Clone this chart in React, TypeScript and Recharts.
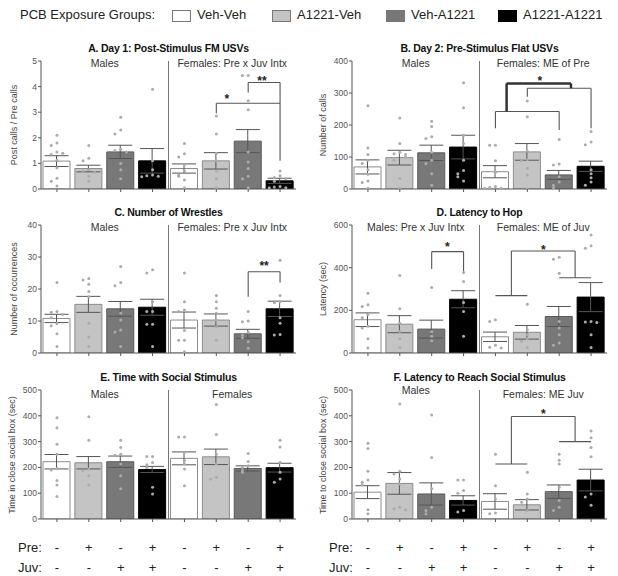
import React from "react";
import { ComposedChart, Bar, Cell, ErrorBar, Scatter, XAxis, YAxis, ReferenceLine, ReferenceDot } from "recharts";

const FONT = "'Liberation Sans', Arial, sans-serif";

const groups = ["M1", "M2", "M3", "M4", "F1", "F2", "F3", "F4"];
const legendNames = ["Veh-Veh", "A1221-Veh", "Veh-A1221", "A1221-A1221"];
const FILLS = ["#ffffff", "#c4c4c4", "#787878", "#000000"];
const STROKES = ["#8c8c8c", "#8c8c8c", "#5a5a5a", "#000000"];
const preSigns = ["-", "+", "-", "+", "-", "+", "-", "+"];
const juvSigns = ["-", "-", "+", "+", "-", "-", "+", "+"];

// A. Day 1 post-stimulus FM USVs
const aMean = [1.09, 0.8, 1.45, 1.1, 0.8, 1.1, 1.87, 0.32];
const aSem = [0.21, 0.13, 0.26, 0.48, 0.18, 0.32, 0.45, 0.1];
const aPoints = [
  [2.1, 1.8, 1.7, 1.45, 1.35, 1.4, 1.12, 0.83, 0.42, 0.3, 0.12],
  [1.7, 1.2, 1.1, 0.75, 0.7, 0.65, 0.5, 0.3],
  [2.8, 2.3, 2.15, 1.55, 1.5, 1.45, 1.0, 0.75, 0.4],
  [3.9, 1.1, 0.75, 0.55, 0.52, 0.5, 0.48],
  [1.78, 1.38, 1.25, 0.95, 0.7, 0.55, 0.5, 0.35, 0.05],
  [2.85, 2.15, 1.4, 1.1, 0.7, 0.4, 0.05],
  [4.43, 4.43, 3.45, 3.1, 1.45, 1.05, 0.8, 0.5, 0.4, 0.05],
  [0.7, 0.52, 0.45, 0.4, 0.3, 0.1, 0.08, 0.05, 0.05],
];
const aBrackets = [
  { path: [[5.5, 2.96], [5.5, 3.35], [7.5, 3.35]] },
  { path: [[6.5, 3.77], [6.5, 4.16], [7.5, 4.16], [7.5, 1.1]] },
];
const aStars = [{ x: 5.83, y: 3.6, text: "*" }, { x: 6.93, y: 4.3, text: "**" }];

// B. Day 2 pre-stimulus flat USVs
const bMean = [69, 98, 113, 131, 54, 116, 44, 71];
const bSem = [22, 23, 24, 37, 19, 26, 14, 16];
const bPoints = [
  [260, 128, 108, 90, 80, 60, 46, 25, 20, 2],
  [222, 142, 115, 110, 108, 100, 90, 33, 2],
  [212, 195, 163, 158, 115, 90, 80, 48, 12],
  [332, 254, 168, 142, 90, 58, 48, 38, 25],
  [137, 137, 88, 52, 8, 5, 2, 2],
  [275, 226, 118, 92, 88, 65, 44, 0],
  [155, 78, 75, 38, 22, 12, 4],
  [180, 147, 138, 60, 48, 35, 22, 12],
];
const bBrackets = [
  { path: [[4.5, 190], [4.5, 242], [6.5, 242], [6.5, 184]] },
  { path: [[5.5, 288], [5.5, 315], [7.5, 315], [7.5, 190]] },
  { path: [[4.85, 242], [4.85, 330], [6.87, 330], [6.87, 315]], bold: true },
];
const bStars = [{ x: 5.89, y: 343, text: "*" }];

// C. Number of wrestles
const cMean = [10.8, 15.2, 13.8, 14.3, 10.3, 10.3, 6.0, 13.8];
const cSem = [1.3, 2.5, 2.3, 2.5, 2.5, 1.9, 1.4, 2.4];
const cPoints = [
  [22, 13, 12.7, 12, 11, 9.2, 8.5, 6, 2],
  [23.3, 22.8, 21.5, 19.2, 17.6, 9.3, 5, 2],
  [27, 22, 21, 12.4, 10.3, 7.2, 6.6, 2],
  [26, 25, 16, 13, 13, 9, 9, 2],
  [25, 16, 13.4, 13, 7, 4, 4, 0.4],
  [18, 16, 14, 12.4, 10.3, 8.2, 4],
  [13, 10, 9.8, 6.5, 5.6, 4.8, 3.5, 1.5],
  [29, 18, 16, 15.7, 11, 9.3, 5.8, 5.6],
];
const cBrackets = [{ path: [[6.5, 17.6], [6.5, 25.4], [7.5, 25.4], [7.5, 22]] }];
const cStars = [{ x: 7.0, y: 27.7, text: "**" }];

// D. Latency to hop
const dMean = [156, 135, 112, 252, 76, 97, 171, 262];
const dSem = [32, 40, 42, 40, 22, 32, 47, 68];
const dPoints = [
  [280, 226, 218, 180, 165, 125, 117, 67, 23],
  [363, 207, 140, 101, 67, 26],
  [307, 100, 78, 58],
  [377, 335, 237, 195, 78],
  [156, 148, 36, 27, 23],
  [229, 109, 86, 67, 55, 26],
  [449, 439, 374, 148, 117, 86, 47, 36],
  [553, 503, 491, 148, 145, 143, 86, 26],
];
const dBrackets = [
  { path: [[2.5, 394], [2.5, 475], [3.5, 475], [3.5, 377]] },
  { path: [[4.5, 269], [5.5, 269]] },
  { path: [[5.0, 269], [5.0, 478], [7.0, 478], [7.0, 353]] },
  { path: [[6.5, 353], [7.5, 353]] },
];
const dStars = [{ x: 2.99, y: 506, text: "*" }, { x: 6.0, y: 494, text: "*" }];

// E. Time with social stimulus
const eMean = [222, 218, 222, 192, 235, 241, 196, 199];
const eSem = [28, 24, 22, 12, 25, 30, 10, 17];
const ePoints = [
  [392, 354, 290, 251, 196, 190, 149, 132, 87],
  [396, 305, 194, 187, 168, 132],
  [305, 277, 251, 247, 213, 168, 117],
  [242, 242, 219, 210, 200, 123, 97],
  [318, 318, 258, 228, 213, 194, 129],
  [444, 328, 251, 213, 162, 155],
  [254, 223, 206, 200, 187, 181],
  [305, 279, 219, 181, 155, 142],
];

// F. Latency to reach social stimulus
const fMean = [104, 138, 97, 72, 68, 55, 106, 151];
const fSem = [25, 42, 43, 18, 30, 20, 26, 42];
const fPoints = [
  [294, 273, 185, 151, 142, 133, 36, 20],
  [446, 185, 174, 155, 136, 46, 40, 36],
  [403, 238, 117, 46, 33, 20],
  [151, 151, 110, 100, 33, 27],
  [251, 129, 78, 23, 20],
  [181, 97, 78, 65, 33],
  [251, 228, 213, 123, 72, 46, 33],
  [341, 315, 277, 241, 97, 85, 53],
];
const fBrackets = [
  { path: [[4.5, 213], [5.5, 213]] },
  { path: [[5.0, 213], [5.0, 397], [7.0, 397], [7.0, 300]] },
  { path: [[6.5, 300], [7.5, 300]] },
];
const fStars = [{ x: 6.0, y: 416, text: "*" }];

const SPREAD = [0, -0.18, 0.18, -0.34, 0.34, -0.1, 0.1];

function spreadPoints(points: number[][], ymax: number) {
  const out: { x: number; y: number }[] = [];
  points.forEach((vals, gi) => {
    vals.forEach((v, k) => {
      const near = vals.slice(0, k).filter((w) => Math.abs(w - v) < ymax * 0.03).length;
      out.push({ x: gi + 0.5 + SPREAD[near % SPREAD.length], y: v });
    });
  });
  return out;
}

const dot = (p: any) => <circle cx={p.cx} cy={p.cy} r={1.5} fill="#ababab" />;

const PW = 300;
const PLOT_L = 41;
const PLOT_W = 255;
const BAND = PLOT_W / 8;

function Panel(props: any) {
  const { left, top, plotH, title, yLabel, domain, ticks, means, sems, points, males, females, brackets = [], stars = [], malesDy = 0, femalesDy = 0, labelY } = props;
  const data = groups.map((g, i) => ({ g, mean: means[i], sem: sems[i] }));
  const pts = spreadPoints(points, domain[1]);
  const H = plotH + 14;
  return (
    <div style={{ position: "absolute", left, top: top - 6, width: PW, height: H }}>
      <div style={{ position: "absolute", left: PLOT_L, width: PLOT_W, top: -13, textAlign: "center", fontSize: 10.5, fontWeight: "bold", color: "#111", whiteSpace: "nowrap", letterSpacing: -0.2 }}>{title}</div>
      <div style={{ position: "absolute", left: PLOT_L + 2 * BAND - 60, width: 120, top: labelY + malesDy, textAlign: "center", fontSize: 10.5, color: "#333", whiteSpace: "nowrap" }}>{males}</div>
      <div style={{ position: "absolute", left: PLOT_L + 6 * BAND - 70, width: 140, top: labelY + femalesDy, textAlign: "center", fontSize: 10.5, color: "#333", whiteSpace: "nowrap" }}>{females}</div>
      <div style={{ position: "absolute", left: props.yLabelX, top: 6 + plotH / 2, transform: "translate(-50%, -50%) rotate(-90deg)", fontSize: 9, color: "#444", whiteSpace: "nowrap" }}>{yLabel}</div>
      <ComposedChart width={PW} height={H} data={data} margin={{ top: 6, right: PW - PLOT_L - PLOT_W, bottom: 0, left: PLOT_L - 22 }} style={{ fontFamily: FONT }}>
        <XAxis xAxisId="cat" dataKey="g" tickFormatter={() => ""} height={8} tickSize={3} stroke="#555" />
        <XAxis xAxisId="pts" type="number" dataKey="x" domain={[0, 8]} hide />
        <YAxis width={22} domain={domain} ticks={ticks} tickSize={3} tickMargin={1} stroke="#555" tick={{ fontSize: 8.5, fill: "#555" }} allowDataOverflow />
        <ReferenceLine xAxisId="pts" x={4} stroke="#777" />
        <Bar xAxisId="cat" dataKey="mean" barSize={27} isAnimationActive={false}>
          {data.map((_, i) => (
            <Cell key={i} fill={FILLS[i % 4]} stroke={STROKES[i % 4]} />
          ))}
          <ErrorBar dataKey="sem" width={12} stroke="#555" strokeWidth={1} direction="y" />
        </Bar>
        <Scatter xAxisId="pts" data={pts} dataKey="y" shape={dot} isAnimationActive={false} />
        {brackets.flatMap((b: any, bi: number) =>
          b.path.slice(1).map((p: number[], si: number) => (
            <ReferenceLine
              key={`b${bi}-${si}`}
              xAxisId="pts"
              segment={[{ x: b.path[si][0], y: b.path[si][1] }, { x: p[0], y: p[1] }]}
              stroke={b.bold ? "#333" : "#555"}
              strokeWidth={b.bold ? 2.5 : 1.1}
            />
          ))
        )}
        {stars.map((s: any, i: number) => (
          <ReferenceDot
            key={`s${i}`}
            xAxisId="pts"
            x={s.x}
            y={s.y}
            r={0}
            shape={(p: any) => (
              <text x={p.cx} y={p.cy + 6} textAnchor="middle" fontSize={12} fontWeight="bold" fill="#222" fontFamily={FONT}>{s.text}</text>
            )}
          />
        ))}
      </ComposedChart>
    </div>
  );
}

function SignRows({ left }: { left: number }) {
  const rows = [["Pre:", preSigns, 548], ["Juv:", juvSigns, 568]] as const;
  return (
    <>
      {rows.map(([name, signs, y]) => (
        <React.Fragment key={name}>
          <div style={{ position: "absolute", left: left + 18, top: y - 8, fontSize: 13, color: "#222" }}>{name}</div>
          {signs.map((s, i) => (
            <div key={i} style={{ position: "absolute", left: left + PLOT_L + (i + 0.5) * BAND - 10, width: 20, textAlign: "center", top: y - 8, fontSize: 13, color: "#222" }}>{s}</div>
          ))}
        </React.Fragment>
      ))}
    </>
  );
}

export default function App() {
  const R = 311;
  return (
    <div style={{ position: "absolute", left: 0, top: 0, width: 618, height: 576, background: "#fff", fontFamily: FONT, overflow: "hidden" }}>
      <div style={{ position: "absolute", left: 20, top: 7, fontSize: 13, color: "#222", whiteSpace: "nowrap" }}>PCB Exposure Groups:</div>
      {legendNames.map((n, i) => {
        const x = [172, 272, 386, 498][i];
        return (
          <React.Fragment key={n}>
            <div style={{ position: "absolute", left: x, top: 10, width: 17, height: 10, background: FILLS[i], border: `1px solid ${i === 3 ? "#000" : "#777"}` }} />
            <div style={{ position: "absolute", left: x + 25, top: 7, fontSize: 13, color: "#222", whiteSpace: "nowrap" }}>{n}</div>
          </React.Fragment>
        );
      })}

      <Panel left={0} top={61} plotH={128} title="A. Day 1: Post-Stimulus FM USVs" yLabel="Post calls / Pre calls" yLabelX={14}
        domain={[0, 5]} ticks={[0, 1, 2, 3, 4, 5]} means={aMean} sems={aSem} points={aPoints}
        males="Males" females="Females: Pre x Juv Intx" labelY={2} brackets={aBrackets} stars={aStars} />
      <Panel left={R} top={61} plotH={128} title="B. Day 2: Pre-Stimulus Flat USVs" yLabel="Number of calls" yLabelX={12}
        domain={[0, 400]} ticks={[0, 100, 200, 300, 400]} means={bMean} sems={bSem} points={bPoints}
        males="Males" females="Females: ME of Pre" labelY={2} brackets={bBrackets} stars={bStars} />
      <Panel left={0} top={225} plotH={128} title="C. Number of Wrestles" yLabel="Number of occurrences" yLabelX={14}
        domain={[0, 40]} ticks={[0, 10, 20, 30, 40]} means={cMean} sems={cSem} points={cPoints}
        males="Males" females="Females: Pre x Juv Intx" labelY={2} brackets={cBrackets} stars={cStars} />
      <Panel left={R} top={225} plotH={128} title="D. Latency to Hop" yLabel="Latency (sec)" yLabelX={12}
        domain={[0, 600]} ticks={[0, 200, 400, 600]} means={dMean} sems={dSem} points={dPoints}
        males="Males: Pre x Juv Intx" females="Females: ME of Juv" labelY={2} brackets={dBrackets} stars={dStars} />
      <Panel left={0} top={390} plotH={129} title="E. Time with Social Stimulus" yLabel="Time in close social box (sec)" yLabelX={12}
        domain={[0, 500]} ticks={[0, 100, 200, 300, 400, 500]} means={eMean} sems={eSem} points={ePoints}
        males="Males" females="Females" labelY={4} />
      <Panel left={R} top={390} plotH={129} title="F. Latency to Reach Social Stimulus" yLabel="Time to close social box (sec)" yLabelX={12}
        domain={[0, 500]} ticks={[0, 100, 200, 300, 400, 500]} means={fMean} sems={fSem} points={fPoints}
        males="Males" females="Females: ME Juv" labelY={0} femalesDy={4} brackets={fBrackets} stars={fStars} />

      <SignRows left={0} />
      <SignRows left={R} />
    </div>
  );
}
